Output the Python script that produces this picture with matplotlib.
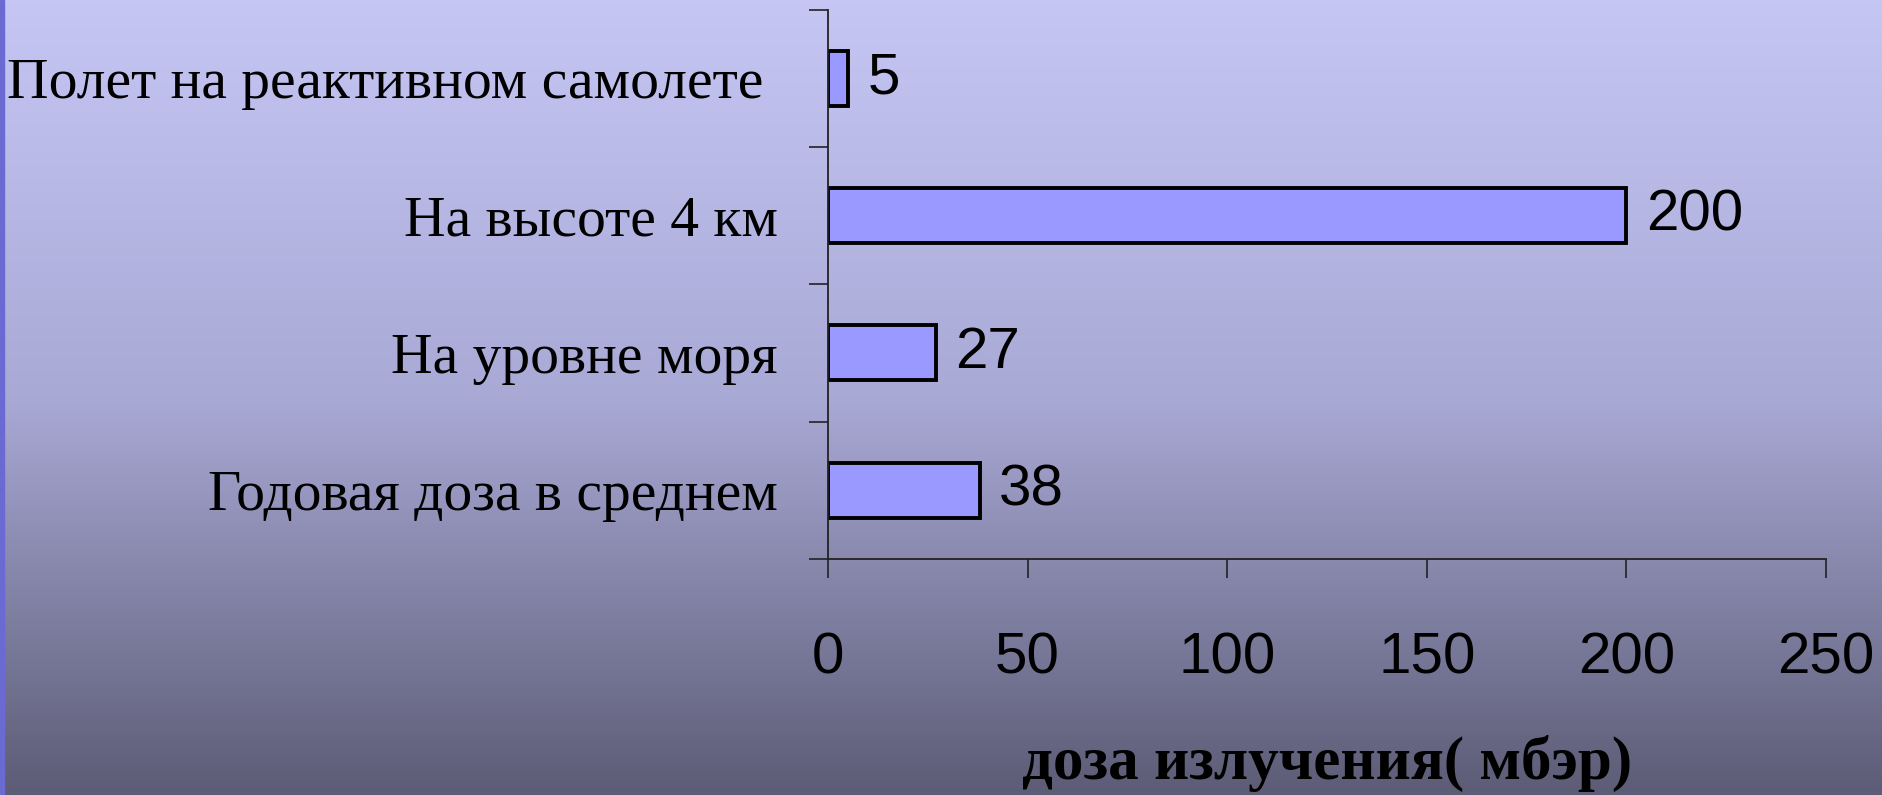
import numpy as np
import matplotlib.pyplot as plt
from matplotlib.colors import LinearSegmentedColormap

categories = ["Годовая доза в среднем", "На уровне моря", "На высоте 4 км",
              "Полет на реактивном самолете "]
values = [38, 27, 200, 5]
xticks = [0, 50, 100, 150, 200, 250]
xlabel = "доза излучения( мбэр)"

fig = plt.figure(figsize=(18.83, 7.95), dpi=100)

# background gradient (light lavender at top, dark slate at bottom)
bg = fig.add_axes([0, 0, 1, 1], zorder=-10)
grad = LinearSegmentedColormap.from_list("bg", ["#c6c6f4", "#a9a9d6", "#5c5c76"])
bg.imshow(np.linspace(0, 1, 256).reshape(-1, 1), aspect="auto", cmap=grad,
          extent=[0, 1, 0, 1])
bg.axvspan(0, 0.0022, color="#6a6ad2")
bg.set_xlim(0, 1)
bg.set_ylim(0, 1)
bg.axis("off")

ax = fig.add_axes([0.4397, 0.2969, 0.53, 0.691])
ax.patch.set_alpha(0)

y = np.arange(len(categories))
ax.barh(y, values, height=0.4, color="#9999ff", edgecolor="black", linewidth=2.8)

for yi, v in zip(y, values):
    ax.annotate(str(v), (v, yi), xytext=(14, 0), textcoords="offset points",
                va="center", ha="left", fontsize=42, family="Liberation Sans")

ax.set_xlim(0, 250)
ax.set_ylim(-0.5, len(categories) - 0.5)

for s in ["top", "right"]:
    ax.spines[s].set_visible(False)
for s in ["left", "bottom"]:
    ax.spines[s].set_color("#222222")
    ax.spines[s].set_linewidth(1.3)

ax.set_xticks(xticks)
ax.set_xticklabels([str(t) for t in xticks], fontsize=42, family="Liberation Sans")
ax.tick_params(axis="x", direction="out", length=13.5, width=1.2, color="#222222", pad=39)

ax.set_yticks(np.arange(-0.5, len(categories)), minor=False)
ax.set_yticklabels([])
ax.tick_params(axis="y", which="major", direction="out", length=13.5, width=1.2, color="#222222")
ax.set_yticks(y, minor=True)
ax.set_yticklabels(categories, minor=True, fontsize=41.5, family="Liberation Serif")
ax.tick_params(axis="y", which="minor", length=0, pad=36)

fig.text(0.7047, 0.004, xlabel, ha="center", va="bottom", fontsize=44,
         family="Liberation Serif", fontweight="bold")

fig.savefig("out.png", dpi=100)
